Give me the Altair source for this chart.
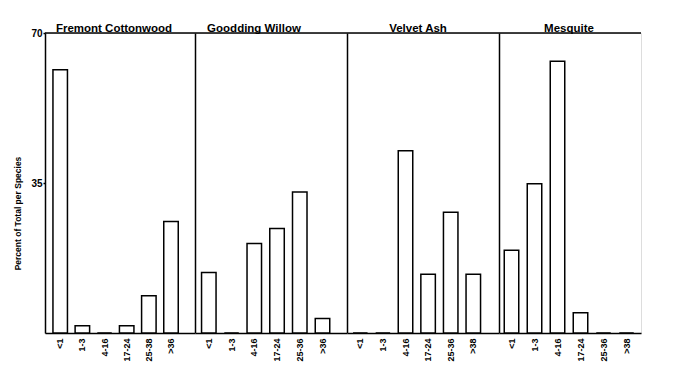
import altair as alt
import pandas as pd

species = ["Fremont Cottonwood", "Goodding Willow", "Velvet Ash", "Mesquite"]

fremont_labels = ["<1", "1-3", "4-16", "17-24", "25-38", ">36"]
willow_labels = ["<1", "1-3", "4-16", "17-24", "25-36", ">36"]
ash_labels = ["<1", "1-3", "4-16", "17-24", "25-36", ">38"]
mesquite_labels = ["<1", "1-3", "4-16", "17-24", "25-36", ">38"]

fremont_values = [61.4, 1.7, 0, 1.7, 8.7, 26.0]
willow_values = [14.1, 0, 20.9, 24.4, 32.9, 3.4]
ash_values = [0, 0, 42.5, 13.7, 28.2, 13.7]
mesquite_values = [19.3, 34.8, 63.4, 4.7, 0, 0]

FONT = "Liberation Sans"


def panel(name, labels, values, W, step, c0, title_dx, first):
    df = pd.DataFrame({"size": labels, "pct": values})
    n = len(labels)
    b = 14.5
    pI = 1 - b / step
    span = step * (n - pI)
    pO = (W / step - n + pI) / 2
    start = c0 - b / 2
    align = start / (W - span)

    x = alt.X(
        "size:N",
        sort=labels,
        title=None,
        scale=alt.Scale(paddingInner=pI, paddingOuter=pO, align=align),
        axis=alt.Axis(
            labelAngle=-90,
            ticks=False,
            domain=True,
            domainColor="black",
            domainWidth=1.5,
            labelFont=FONT,
            labelFontSize=9,
            labelFontWeight="bold",
            labelColor="black",
            labelPadding=5,
        ),
    )
    if first:
        yaxis = alt.Axis(
            values=[35, 70],
            tickSize=2,
            tickColor="black",
            tickWidth=1.5,
            labelPadding=1,
            labelFont=FONT,
            labelFontSize=10,
            labelFontWeight="bold",
            labelColor="black",
            domain=True,
            domainColor="black",
            domainWidth=1.5,
            grid=False,
            title="Percent of Total per Species",
            titleFont=FONT,
            titleFontSize=8.5,
            titleFontWeight="bold",
            titleColor="black",
            titleY=180,
            titlePadding=8,
        )
    else:
        yaxis = alt.Axis(
            labels=False,
            ticks=False,
            title=None,
            domain=True,
            domainColor="black",
            domainWidth=1.5,
            grid=False,
        )
    y = alt.Y(
        "pct:Q",
        scale=alt.Scale(domain=[0, 70], nice=False, zero=True),
        axis=yaxis,
    )
    bars = alt.Chart(df).mark_bar(fill="white", stroke="black", strokeWidth=1.5).encode(x=x, y=y)
    one = pd.DataFrame({"t": [name]})
    top = alt.Chart(one).mark_rule(color="black", strokeWidth=1.5).encode(
        x=alt.value(0), x2=alt.value(W), y=alt.value(0)
    )
    title = alt.Chart(one).mark_text(
        font=FONT, fontSize=11.5, fontWeight="bold", color="black",
        align="center", baseline="alphabetic",
    ).encode(
        text="t:N", x=alt.value(W / 2 + title_dx), y=alt.value(-1.5)
    )
    return alt.layer(bars, top, title).properties(width=W, height=300)


p1 = panel(species[0], fremont_labels, fremont_values, 150, 22.16, 15.2, -6, True)
p2 = panel(species[1], willow_labels, willow_values, 152, 22.74, 13.8, -17, False)
p3 = panel(species[2], ash_labels, ash_values, 152, 22.6, 13.3, -5, False)
p4 = panel(species[3], mesquite_labels, mesquite_values, 142, 23.0, 12.5, -1, False)

chart = (
    alt.hconcat(p1, p2, p3, p4, spacing=0, bounds="flush")
    .properties(padding={"left": 5, "top": 14, "right": 5, "bottom": 2})
    .configure_view(stroke=None)
    .configure(background="white")
)

chart.save("out.html", embed_options={"renderer": "svg", "actions": False})
